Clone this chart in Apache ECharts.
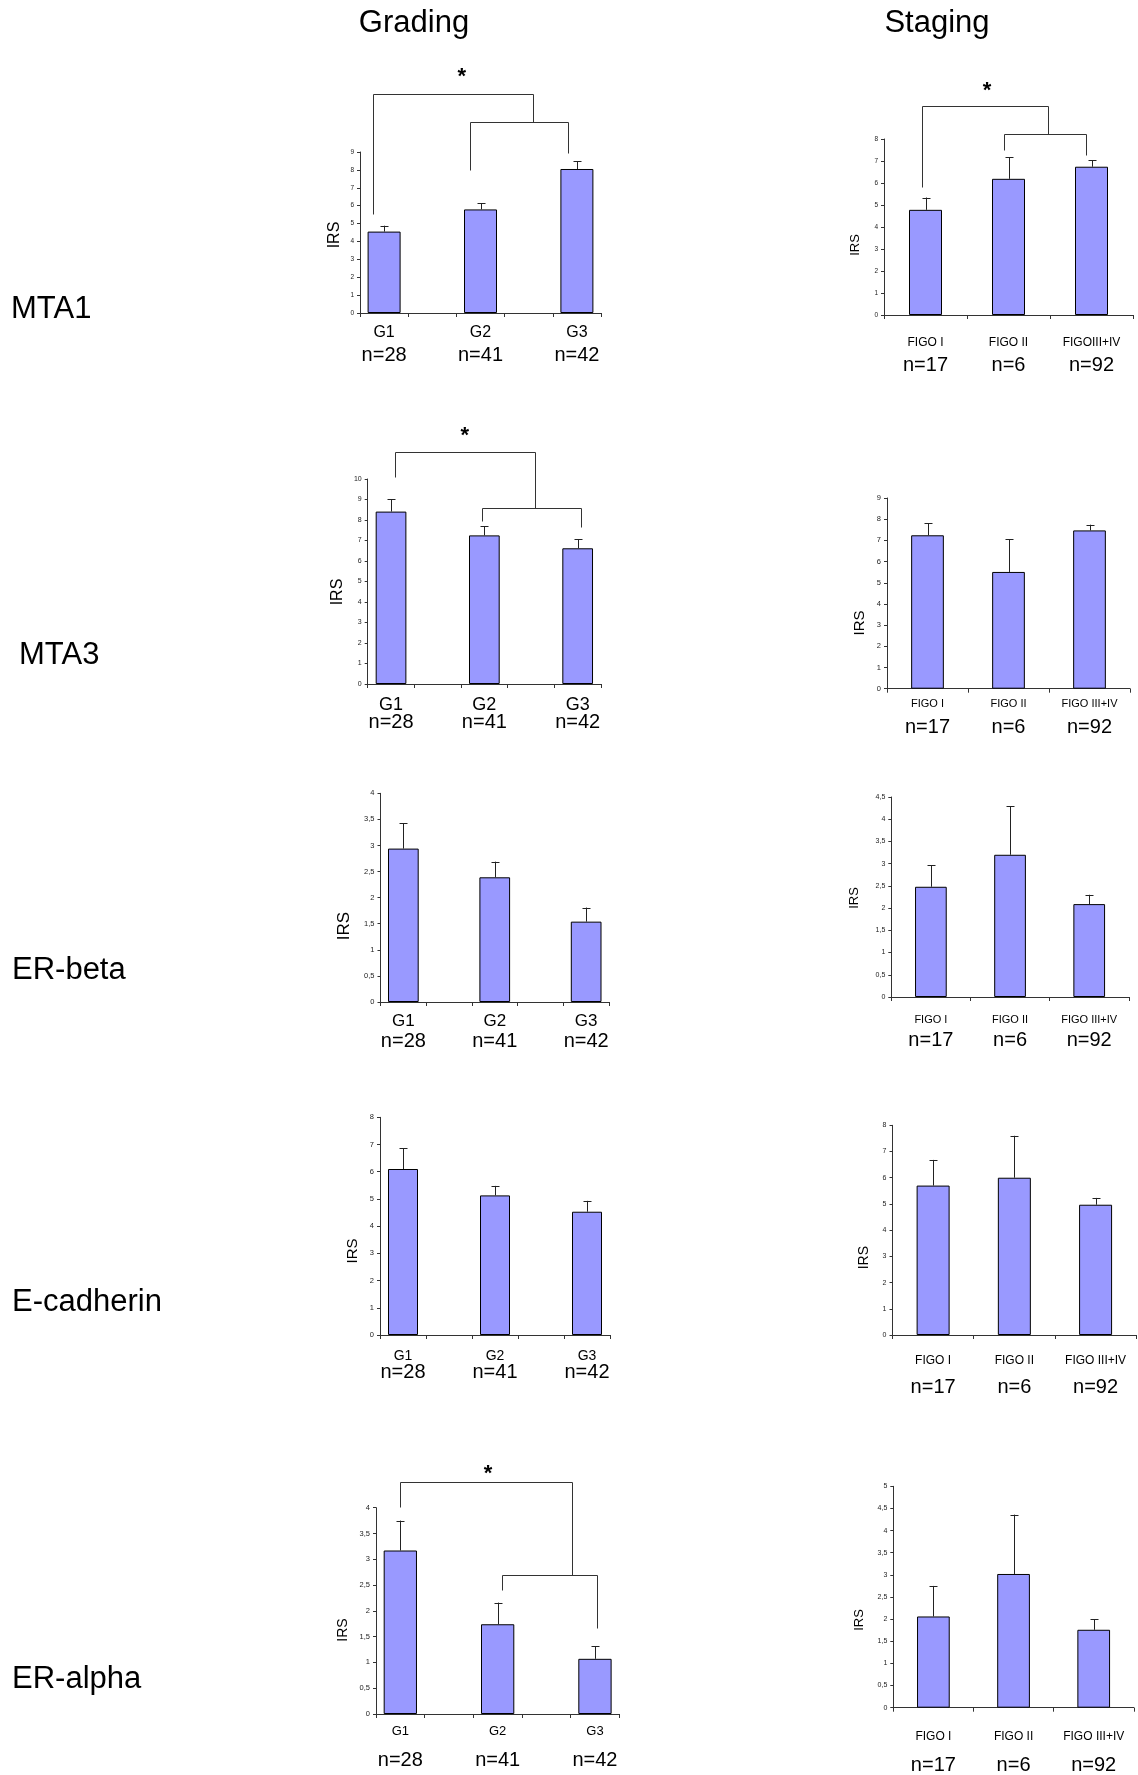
<!DOCTYPE html>
<html>
<head>
<meta charset="utf-8">
<script src="https://cdn.jsdelivr.net/npm/echarts@6/dist/echarts.min.js"></script>
<style>
  html, body { margin: 0; padding: 0; background: #fff; }
  #chart { width: 1138px; height: 1775px; }
</style>
</head>
<body>
<div id="chart"></div>
<script>
const FONT = "'Liberation Sans', Arial, Helvetica, sans-serif";

// ---- categories and labels ----
const columnTitles = ['Grading', 'Staging'];
const markers = ['MTA1', 'MTA3', 'ER-beta', 'E-cadherin', 'ER-alpha'];
const gradeCats = ['G1', 'G2', 'G3'];
const gradeN = ['n=28', 'n=41', 'n=42'];
const stageCatsMta1 = ['FIGO I', 'FIGO II', 'FIGOIII+IV'];
const stageCats = ['FIGO I', 'FIGO II', 'FIGO III+IV'];
const stageN = ['n=17', 'n=6', 'n=92'];
const axisTitle = 'IRS';

// ---- mean IRS per group and standard error ----
const mta1Grade = [4.55, 5.79, 8.05];
const mta1GradeSE = [0.33, 0.34, 0.43];
const mta1Stage = [4.78, 6.19, 6.74];
const mta1StageSE = [0.56, 0.97, 0.30];

const mta3Grade = [8.41, 7.25, 6.62];
const mta3GradeSE = [0.60, 0.44, 0.44];
const mta3Stage = [7.24, 5.51, 7.47];
const mta3StageSE = [0.58, 1.54, 0.27];

const erbGrade = [2.94, 2.39, 1.54];
const erbGradeSE = [0.49, 0.30, 0.27];
const erbStage = [2.48, 3.20, 2.09];
const erbStageSE = [0.48, 1.09, 0.21];

const ecadGrade = [6.10, 5.13, 4.53];
const ecadGradeSE = [0.76, 0.35, 0.40];
const ecadStage = [5.70, 6.00, 4.97];
const ecadStageSE = [0.98, 1.60, 0.26];

const eraGrade = [3.17, 1.74, 1.07];
const eraGradeSE = [0.58, 0.42, 0.24];
const eraStage = [2.06, 3.02, 1.76];
const eraStageSE = [0.69, 1.34, 0.24];

// ---- significance brackets: [xLeft, xRight, level, leftEnd, rightEnd] in axis units ----
const mta1GradeBrackets = [[-0.22, 3.09, 12.22, 5.55, 10.68], [1.79, 3.81, 10.68, 8.01, 8.94]];
const mta1GradeStar = [[1.61, 13.47]];
const mta1StageBrackets = [[-0.04, 1.48, 9.48, 5.80, 8.25], [0.95, 1.93, 8.25, 7.50, 7.28]];
const mta1StageStar = [[0.74, 10.42]];
const mta3GradeBrackets = [[0.08, 3.09, 11.30, 10.08, 8.57], [1.94, 4.08, 8.57, 7.97, 7.64]];
const mta3GradeStar = [[1.58, 12.36]];
const eraGradeBrackets = [[0.00, 3.53, 4.50, 4.02, 2.69], [2.08, 4.05, 2.69, 2.40, 1.66]];
const eraGradeStar = [[1.80, 4.76]];

// ---- panel layout ----
const panels = [
  { values: mta1Grade, se: mta1GradeSE, cats: gradeCats, n: gradeN, spaced: true, max: 9, step: 1,
    grid: { left: 360, top: 152, width: 241, height: 161 }, barWidth: 33, tickFont: 6.5, catFont: 16, lab: [20, 42],
    irs: { x: 335, y: 235, size: 16 }, brackets: mta1GradeBrackets, star: mta1GradeStar },
  { values: mta1Stage, se: mta1StageSE, cats: stageCatsMta1, n: stageN, spaced: false, max: 8, step: 1,
    grid: { left: 884, top: 139, width: 249, height: 176 }, barWidth: 33, tickFont: 6.5, catFont: 12, lab: [27.5, 50.3],
    irs: { x: 855.5, y: 245, size: 13 }, brackets: mta1StageBrackets, star: mta1StageStar },
  { values: mta3Grade, se: mta3GradeSE, cats: gradeCats, n: gradeN, spaced: true, max: 10, step: 1,
    grid: { left: 367.7, top: 479, width: 233.3, height: 205 }, barWidth: 30.7, tickFont: 7, catFont: 18, lab: [21, 38],
    irs: { x: 337.7, y: 592, size: 16 }, brackets: mta3GradeBrackets, star: mta3GradeStar },
  { values: mta3Stage, se: mta3StageSE, cats: stageCats, n: stageN, spaced: false, max: 9, step: 1,
    grid: { left: 887, top: 498, width: 243, height: 190.7 }, barWidth: 32.7, tickFont: 7.5, catFont: 11, lab: [15, 38.3],
    irs: { x: 859.7, y: 623, size: 15 } },
  { values: erbGrade, se: erbGradeSE, cats: gradeCats, n: gradeN, spaced: true, max: 4, step: 0.5,
    grid: { left: 380.5, top: 793.3, width: 228.5, height: 208.7 }, barWidth: 30.7, tickFont: 7.5, catFont: 17, lab: [19, 39],
    irs: { x: 344.7, y: 926, size: 17 } },
  { values: erbStage, se: erbStageSE, cats: stageCats, n: stageN, spaced: false, max: 4.5, step: 0.5,
    grid: { left: 891.3, top: 797, width: 237.5, height: 200 }, barWidth: 31.7, tickFont: 7, catFont: 11, lab: [22.7, 43.3],
    irs: { x: 854.7, y: 898, size: 13 } },
  { values: ecadGrade, se: ecadGradeSE, cats: gradeCats, n: gradeN, spaced: true, max: 8, step: 1,
    grid: { left: 380, top: 1117.3, width: 230, height: 217.7 }, barWidth: 30, tickFont: 7.5, catFont: 14, lab: [21, 37.7],
    irs: { x: 353.3, y: 1251, size: 15 } },
  { values: ecadStage, se: ecadStageSE, cats: stageCats, n: stageN, spaced: false, max: 8, step: 1,
    grid: { left: 892.5, top: 1125.3, width: 243.7, height: 209.7 }, barWidth: 33, tickFont: 7, catFont: 12, lab: [26, 52.7],
    irs: { x: 864, y: 1257.7, size: 14 } },
  { values: eraGrade, se: eraGradeSE, cats: gradeCats, n: gradeN, spaced: true, max: 4, step: 0.5,
    grid: { left: 376, top: 1507.7, width: 243.3, height: 206.3 }, barWidth: 33.3, tickFont: 7.5, catFont: 13, lab: [17.7, 46],
    irs: { x: 343, y: 1630, size: 14 }, brackets: eraGradeBrackets, star: eraGradeStar },
  { values: eraStage, se: eraStageSE, cats: stageCats, n: stageN, spaced: false, max: 5, step: 0.5,
    grid: { left: 893.3, top: 1486.3, width: 240.5, height: 227.7 }, barWidth: 32.7, tickFont: 7, catFont: 12, lab: [29, 57.3],
    irs: { x: 859.7, y: 1620, size: 13 } }
];

const titlePos = [{ x: 414, y: 23 }, { x: 937, y: 23 }];
const markerPos = [{ x: 11, y: 309 }, { x: 19, y: 655 }, { x: 12, y: 970 }, { x: 12, y: 1302 }, { x: 12, y: 1679 }];

// grading panels leave an empty slot between groups
const spread = (arr, f1, f2) => [arr[0], f1, arr[1], f2, arr[2]];
const decimalComma = v => String(v).replace('.', ',');

const AXIS = '#333';
const BAR = '#9999ff';

const grids = [], xAxes = [], yAxes = [], series = [], graphics = [];

panels.forEach((p, k) => {
  const cats = p.spaced ? spread(p.cats, ' ', '  ') : p.cats;
  const nLab = p.spaced ? spread(p.n, '', '') : p.n;
  const vals = p.spaced ? spread(p.values, '-', '-') : p.values;
  const count = cats.length;
  const L = p.lab[1] - p.lab[0];
  const margin = p.lab[0] - L / 2;

  grids.push(Object.assign({ containLabel: false }, p.grid));

  xAxes.push({
    type: 'category', gridIndex: k, data: cats,
    axisLine: { show: true, onZero: false, lineStyle: { color: AXIS, width: 1 } },
    axisTick: { show: true, length: 4, interval: 0, alignWithLabel: false, lineStyle: { color: AXIS } },
    axisLabel: {
      interval: 0, margin: margin,
      formatter: (value, idx) => value.trim() ? '{c|' + value + '}\n{n|' + nLab[idx] + '}' : '',
      rich: {
        c: { fontSize: p.catFont, lineHeight: L, fontFamily: FONT, color: '#000' },
        n: { fontSize: 20, lineHeight: L, fontFamily: FONT, color: '#000' }
      }
    },
    splitLine: { show: false }
  });
  // value-typed twin of the category axis, used to place the bracket annotations
  xAxes.push({ type: 'value', gridIndex: k, min: -0.5, max: count - 0.5, show: false,
               axisLine: { onZero: false } });

  yAxes.push({
    type: 'value', gridIndex: k, min: 0, max: p.max, interval: p.step,
    axisLine: { show: true, onZero: false, lineStyle: { color: AXIS, width: 1 } },
    axisTick: { show: true, length: 3, lineStyle: { color: AXIS } },
    axisLabel: { fontSize: p.tickFont, color: '#222', margin: 6, fontFamily: FONT, formatter: decimalComma },
    splitLine: { show: false }
  });

  series.push({
    type: 'bar', xAxisIndex: 2 * k, yAxisIndex: k, data: vals,
    barWidth: p.barWidth,
    itemStyle: { color: BAR, borderColor: '#000', borderWidth: 1 },
    silent: true, animation: false
  });

  // upper error bars
  series.push({
    type: 'custom', xAxisIndex: 2 * k, yAxisIndex: k, z: 3, clip: false, animation: false, silent: true,
    data: p.values.map((v, i) => [p.spaced ? 2 * i : i, v, p.se[i]]),
    encode: { x: 0, y: 1 },
    renderItem: (params, api) => {
      const base = api.coord([api.value(0), api.value(1)]);
      const top = api.coord([api.value(0), api.value(1) + api.value(2)]);
      const x = Math.round(base[0]) + 0.5;
      return {
        type: 'group',
        children: [
          { type: 'line', shape: { x1: x, y1: base[1], x2: x, y2: top[1] }, style: { stroke: '#222', lineWidth: 1 } },
          { type: 'line', shape: { x1: x - 4, y1: Math.round(top[1]) + 0.5, x2: x + 4, y2: Math.round(top[1]) + 0.5 }, style: { stroke: '#222', lineWidth: 1 } }
        ]
      };
    }
  });

  if (p.brackets) {
    series.push({
      type: 'custom', xAxisIndex: 2 * k + 1, yAxisIndex: k, z: 3, clip: false, animation: false, silent: true,
      data: p.brackets,
      encode: { x: [0, 1], y: [2, 3, 4] },
      renderItem: (params, api) => {
        const pts = [
          api.coord([api.value(0), api.value(3)]),
          api.coord([api.value(0), api.value(2)]),
          api.coord([api.value(1), api.value(2)]),
          api.coord([api.value(1), api.value(4)])
        ].map(q => [Math.round(q[0]) + 0.5, Math.round(q[1]) + 0.5]);
        return { type: 'polyline', shape: { points: pts }, style: { stroke: '#333', lineWidth: 1, fill: null } };
      }
    });
    series.push({
      type: 'custom', xAxisIndex: 2 * k + 1, yAxisIndex: k, z: 4, clip: false, animation: false, silent: true,
      data: p.star,
      encode: { x: 0, y: 1 },
      renderItem: (params, api) => {
        const q = api.coord([api.value(0), api.value(1)]);
        return {
          type: 'text', x: q[0], y: q[1] + 5,
          style: { text: '*', fontSize: 22, fontWeight: 'bold', fontFamily: FONT, fill: '#000',
                   align: 'center', verticalAlign: 'middle', textAlign: 'center', textVerticalAlign: 'middle' }
        };
      }
    });
  }

  graphics.push({
    type: 'text', x: p.irs.x, y: p.irs.y, rotation: Math.PI / 2, silent: true,
    style: { text: axisTitle, fontSize: p.irs.size, fontFamily: FONT, fill: '#000',
             align: 'center', verticalAlign: 'middle', textAlign: 'center', textVerticalAlign: 'middle' }
  });
});

columnTitles.forEach((t, i) => {
  graphics.push({
    type: 'text', x: titlePos[i].x, y: titlePos[i].y, silent: true,
    style: { text: t, fontSize: 31, fontFamily: FONT, fill: '#000',
             align: 'center', verticalAlign: 'middle', textAlign: 'center', textVerticalAlign: 'middle' }
  });
});

markers.forEach((t, i) => {
  graphics.push({
    type: 'text', x: markerPos[i].x, y: markerPos[i].y, silent: true,
    style: { text: t, fontSize: 31, fontFamily: FONT, fill: '#000',
             align: 'left', verticalAlign: 'middle', textAlign: 'left', textVerticalAlign: 'middle' }
  });
});

const chart = echarts.init(document.getElementById('chart'), null, { renderer: 'canvas', width: 1138, height: 1775 });
chart.setOption({
  backgroundColor: '#ffffff',
  animation: false,
  textStyle: { fontFamily: FONT },
  grid: grids,
  xAxis: xAxes,
  yAxis: yAxes,
  series: series,
  graphic: graphics
});
</script>
</body>
</html>
